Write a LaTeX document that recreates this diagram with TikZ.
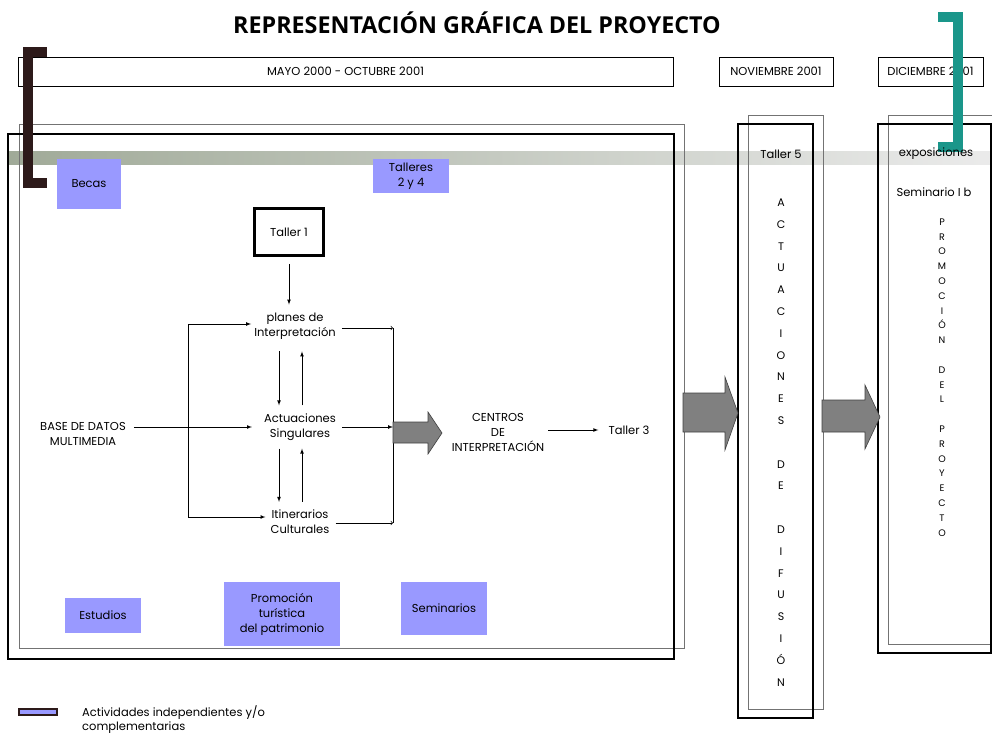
\documentclass[tikz,border=0pt]{standalone}
\usepackage{fontspec}
\setmainfont{Poppins}
\newfontfamily\titlefont{Open Sans}
\usepackage{xcolor}
\usepackage{tikz}
\usetikzlibrary{calc,arrows,positioning}
\definecolor{lila}{RGB}{153,153,255}
\definecolor{barra}{RGB}{160,170,152}
\definecolor{verdeazul}{RGB}{26,150,138}
\definecolor{marron}{RGB}{45,26,26}

\begin{document}
\begin{tikzpicture}[x=1pt,y=1pt]
            \tikzstyle{every node}+=[inner sep=0pt, align=center, font=\fontsize{11.5}{15}\selectfont]
            \tikzstyle{caja}=[draw=black, line width=0.9pt]
            \tikzstyle{sombra}=[draw=black!55, line width=0.6pt]
            \tikzstyle{activ}=[fill=lila]
            \tikzstyle{flecha}=[-latex, line width=0.7pt]
            \tikzstyle{abierta}=[-to, line width=0.7pt]
            \tikzstyle{gorda}=[fill=black!50, draw=black!75, line width=0.6pt]
            \useasboundingbox (0,0) rectangle (992,-738);
            % titulo y fechas
            \node [font=\titlefont\bfseries\fontsize{23.3}{28}\selectfont] (titulo) at (477,-23) {REPRESENTACIÓN GRÁFICA DEL PROYECTO};
            \shade [left color=barra, right color=black!8] (8,-152) rectangle (990,-165);
            \node [caja, minimum width=655, minimum height=29] (mayo) at (345.5,-71.5) {MAYO 2000 - OCTUBRE 2001};
            \node [caja, minimum width=114, minimum height=29] (noviembre) at (776,-71.5) {NOVIEMBRE 2001};
            \node [caja, minimum width=105, minimum height=29] (diciembre) at (930.5,-71.5) {DICIEMBRE 2001};
            % marcos
            \draw [sombra] (19,-124) rectangle (684,-648);
            \draw [caja, line width=1.5pt] (8,-134) rectangle (674,-659);
            \draw [sombra] (748,-115) rectangle (823,-709);
            \draw [caja, line width=1.3pt] (738,-124) rectangle (813,-718);
            \draw [sombra] (888,-115) rectangle (996,-644);
            \draw [caja, line width=1.3pt] (878,-124) rectangle (991,-653);
            \draw [marron, line width=10pt] (47,-52.5) -- (28,-52.5) -- (28,-183) -- (47,-183);
            \draw [verdeazul, line width=10pt] (938,-17) -- (958,-17) -- (958,-147.5) -- (938,-147.5);
            % actividades
            \node [activ, minimum width=64, minimum height=50] (becas) at (89,-184) {Becas};
            \node [activ, minimum width=76, minimum height=34] (talleres) at (411,-176) {Talleres\\2 y 4};
            \node [activ, minimum width=76, minimum height=35] (estudios) at (103,-615.5) {Estudios};
            \node [activ, minimum width=116, minimum height=64] (promocion) at (282,-614) {Promoción\\turística\\del patrimonio};
            \node [activ, minimum width=86, minimum height=53] (seminarios) at (444,-608.5) {Seminarios};
            % esquema central
            \node [draw, line width=2.5pt, minimum width=69, minimum height=47] (taller1) at (289,-232) {Taller 1};
            \node (planes) at (295,-326) {planes de\\Interpretación};
            \node (actuaciones) at (300,-427) {Actuaciones\\Singulares};
            \node (itinerarios) at (300,-522) {Itinerarios\\Culturales};
            \node (base) at (83,-434) {BASE DE DATOS\\MULTIMEDIA};
            \node (centros) at (498,-432) {CENTROS\\DE\\INTERPRETACIÓN};
            \node (taller3) at (629,-430) {Taller 3};
            \coordinate (izqa) at (188,-324);
            \coordinate (izqb) at (188,-517);
            \coordinate (dera) at (393,-328);
            \coordinate (derb) at (393,-523);
            \draw [flecha, shorten <=7pt, shorten >=8pt] (taller1.south) -- (taller1.south |- planes.north);
            \draw [line width=0.9pt] (izqa) -- (izqb);
            \draw [flecha, shorten >=3pt] (izqa) -- (izqa -| planes.west);
            \draw [flecha, shorten >=5pt] (izqb) -- (izqb -| itinerarios.west);
            \draw [flecha, shorten <=8pt, shorten >=12pt] (base.east |- actuaciones) -- (actuaciones.west);
            \draw [flecha, shorten <=12pt, shorten >=8pt] ([xshift=-16pt]planes.south) -- ([xshift=-21pt]actuaciones.north);
            \draw [flecha, shorten <=8pt, shorten >=12pt] ([xshift=2pt]actuaciones.north) -- ([xshift=7pt]planes.south);
            \draw [flecha, shorten <=8pt, shorten >=8pt] ([xshift=-21pt]actuaciones.south) -- ([xshift=-21pt]itinerarios.north);
            \draw [flecha, shorten <=8pt, shorten >=8pt] ([xshift=2pt]itinerarios.north) -- ([xshift=2pt]actuaciones.south);
            \draw [line width=0.9pt] (dera) -- (derb);
            \draw [abierta, shorten <=6pt] (planes.east |- dera) -- (dera);
            \draw [flecha, shorten <=6pt] (actuaciones.east) -- (actuaciones.east -| dera);
            \draw [abierta, shorten <=6pt] (itinerarios.east |- derb) -- (derb);
            \draw [gorda] (393,-422) -- (428,-422) -- (428,-412) -- (442,-433) -- (428,-454) -- (428,-443) -- (393,-443) -- cycle;
            \draw [flecha, shorten <=4pt, shorten >=10pt] (centros.east |- taller3.west) -- (taller3.west);
            \draw [gorda] (683,-393) -- (725,-393) -- (725,-377) -- (738,-413) -- (725,-450) -- (725,-432) -- (683,-432) -- cycle;
            \draw [gorda] (822,-400) -- (865,-400) -- (865,-385) -- (880,-417) -- (865,-449) -- (865,-432) -- (822,-432) -- cycle;
            % columnas
            \node (taller5) at (781,-154) {Taller 5};
            \node [font=\fontsize{11}{21.8}\selectfont] (difusion) at (781,-442.5) {A\\C\\T\\U\\A\\C\\I\\O\\N\\E\\S\\ \\D\\E\\ \\D\\I\\F\\U\\S\\I\\Ó\\N};
            \node (exposiciones) at (936,-154) {exposiciones};
            \node (seminario) at (934,-192) {Seminario I b};
            \node [font=\fontsize{9.5}{14.8}\selectfont] (promo) at (942,-377.5) {P\\R\\O\\M\\O\\C\\I\\Ó\\N\\ \\D\\E\\L\\ \\P\\R\\O\\Y\\E\\C\\T\\O};
            % leyenda
            \node [draw=marron, line width=1.5pt, fill=lila, minimum width=38, minimum height=6] (leyenda) at (38,-712) {};
            \node [anchor=west, align=left, font=\fontsize{11.5}{14}\selectfont] (leyendatxt) at (82,-720) {Actividades independientes y/o\\complementarias};
\end{tikzpicture}
\end{document}
